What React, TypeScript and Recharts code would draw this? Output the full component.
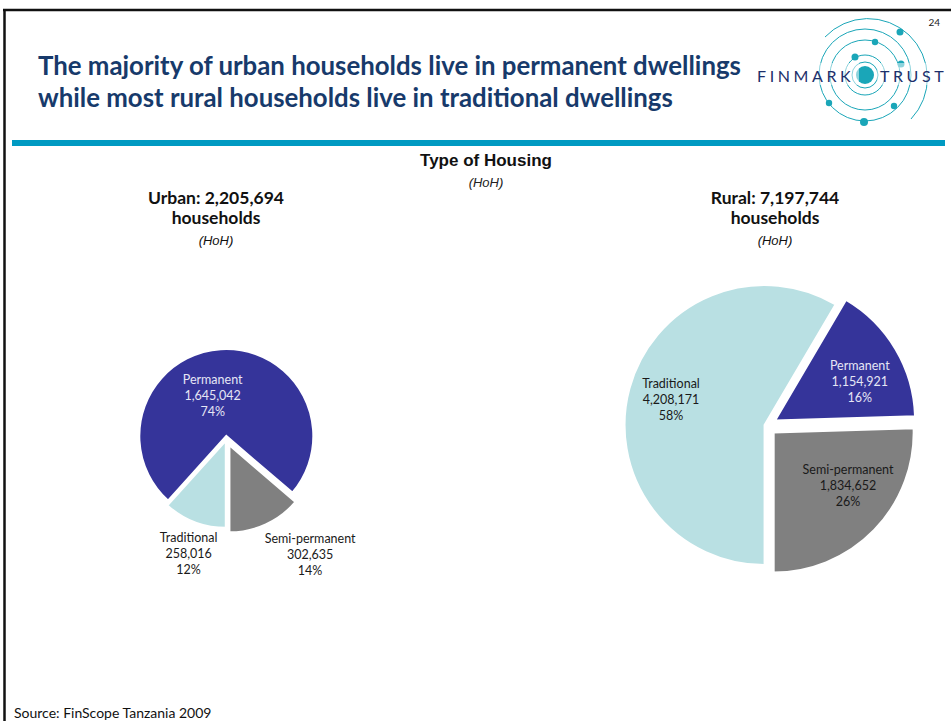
import { PieChart, Pie, Cell } from 'recharts'

// Slices run counter-clockwise from six o'clock in this order
const housingTypes = ['Semi-permanent', 'Permanent', 'Traditional']
const urbanHouseholds = [302635, 1645042, 258016]
const urbanPercent = [14, 74, 12]
const ruralHouseholds = [1834652, 1154921, 4208171]
const ruralPercent = [26, 16, 58]

const sliceColors = ['#808080', '#35349a', '#b9e0e3']
const labelColors = ['#1a1a1a', '#e6e6f5', '#1a1a1a']

const START_ANGLE = -90
const TEAL = '#1aa6b8'
const NAVY = '#173a6b'

interface LabelSpot {
  k: number
  dx: number
  dy: number
}

function midAngles(values: number[]) {
  const total = values.reduce((a, b) => a + b, 0)
  let acc = 0
  return values.map((v) => {
    const mid = START_ANGLE + ((acc + v / 2) / total) * 360
    acc += v
    return mid
  })
}

function sliceLabel(p: any, i: number, pct: number, spot: LabelSpot) {
  const rad = (-p.midAngle * Math.PI) / 180
  const x = p.cx + p.outerRadius * spot.k * Math.cos(rad) + spot.dx
  const y = p.cy + p.outerRadius * spot.k * Math.sin(rad) + spot.dy
  return (
    <text
      key={`lbl-${i}`}
      x={x}
      y={y}
      textAnchor="middle"
      dominantBaseline="central"
      fill={labelColors[i]}
      fontSize={12.5}
      fontFamily="Lato, sans-serif"
    >
      <tspan x={x} dy={-16}>{housingTypes[i]}</tspan>
      <tspan x={x} dy={16}>{p.value.toLocaleString('en-US')}</tspan>
      <tspan x={x} dy={16}>{pct}%</tspan>
    </text>
  )
}

// one Pie per slice so each wedge can be pulled out along its own mid angle
function explodedPie(
  id: string,
  values: number[],
  percents: number[],
  cx: number,
  cy: number,
  radius: number,
  explode: number[],
  spots: LabelSpot[],
) {
  const data = housingTypes.map((name, i) => ({ name, value: values[i] }))
  const mids = midAngles(values)
  return data.map((_, i) => {
    const rad = (mids[i] * Math.PI) / 180
    const ox = cx + explode[i] * Math.cos(rad)
    const oy = cy - explode[i] * Math.sin(rad)
    return (
      <Pie
        key={`${id}-${i}`}
        data={data}
        dataKey="value"
        nameKey="name"
        cx={ox}
        cy={oy}
        outerRadius={radius}
        startAngle={START_ANGLE}
        endAngle={START_ANGLE + 360}
        stroke="none"
        isAnimationActive={false}
        labelLine={false}
        label={(p: any) => {
          const idx = p.index ?? housingTypes.indexOf(p.name)
          return idx === i ? sliceLabel(p, i, percents[i], spots[i]) : null
        }}
      >
        {data.map((d, j) => (
          <Cell
            key={d.name}
            fill={j === i ? sliceColors[j] : 'transparent'}
            stroke={j === i ? '#ffffff' : 'none'}
            strokeWidth={j === i ? 2 : 0}
          />
        ))}
      </Pie>
    )
  })
}

const urbanSpots: LabelSpot[] = [
  { k: 1.45, dx: 28, dy: -6 },
  { k: 0.48, dx: -11, dy: 1 },
  { k: 1.35, dx: 5, dy: 3 },
]
const ruralSpots: LabelSpot[] = [
  { k: 0.65, dx: 9, dy: -11 },
  { k: 0.67, dx: 4, dy: 8 },
  { k: 0.7, dx: 1, dy: 0 },
]

function Logo() {
  const cx = 865
  const cy = 75
  const dots = [
    [900, 32, 3.5], [875, 42, 3.2], [855, 57, 3.5], [901, 64, 3.5],
    [829, 103, 3.2], [894, 106, 3.2], [864, 122, 4],
  ]
  return (
    <g>
      <circle cx={cx} cy={cy} r={13} fill="none" stroke={TEAL} strokeWidth={1} />
      <circle cx={cx} cy={cy} r={20} fill="none" stroke={TEAL} strokeWidth={1} />
      <circle cx={cx} cy={cy} r={35} fill="none" stroke={TEAL} strokeWidth={1} />
      <circle cx={cx} cy={cy} r={46} fill="none" stroke={TEAL} strokeWidth={1} />
      <path
        d={`M ${cx - 40} ${cy - 38} A 55 55 0 0 1 ${cx + 46} ${cy + 44}`}
        fill="none"
        stroke={TEAL}
        strokeWidth={1}
      />
      <circle cx={cx} cy={cy} r={9} fill={TEAL} />
      {dots.map(([x, y, r], i) => (
        <circle key={i} cx={x} cy={y} r={r} fill={TEAL} />
      ))}
      <rect x={753} y={63} width={106} height={22} fill="#fff" opacity={0.5} />
      <rect x={877} y={63} width={72} height={22} fill="#fff" opacity={0.5} />
      <text x={757} y={82} fontFamily="Lato, sans-serif" fontSize={16} letterSpacing={3.6} fill="#1d2f6b">
        FINMARK
      </text>
      <text x={880} y={82} fontFamily="Lato, sans-serif" fontSize={16} letterSpacing={3.6} fill="#1d2f6b">
        TRUST
      </text>
    </g>
  )
}

export default function App() {
  const W = 951
  const H = 721
  return (
    <div style={{ position: 'absolute', left: 0, top: 0, width: W, height: H, background: '#fff', overflow: 'hidden' }}>
      <svg width={W} height={H} style={{ position: 'absolute', left: 0, top: 0 }}>
        <line x1={3} y1={10} x2={W} y2={10} stroke="#111" strokeWidth={2.5} />
        <line x1={4.5} y1={9} x2={4.5} y2={H} stroke="#111" strokeWidth={2.5} />
        <rect x={12} y={140} width={933} height={6} fill="#009ac2" />

        <text fontFamily="Lato, sans-serif" fontWeight={700} fontSize={25.8} fill={NAVY}>
          <tspan x={38} y={75}>The majority of urban households live in permanent dwellings</tspan>
          <tspan x={38} y={107}>while most rural households live in traditional dwellings</tspan>
        </text>
        <text x={940} y={26} textAnchor="end" fontFamily="Lato, sans-serif" fontSize={10} fill="#222">24</text>
        <Logo />

        <text x={486} y={166} textAnchor="middle" fontFamily="'Liberation Sans', Arial, sans-serif" fontWeight={700} fontSize={17} fill="#111">
          Type of Housing
        </text>
        <text x={486} y={187} textAnchor="middle" fontFamily="'Liberation Sans', Arial, sans-serif" fontStyle="italic" fontSize={13} fill="#222">
          (HoH)
        </text>

        <g textAnchor="middle" fill="#111">
          <text x={216} y={204} fontFamily="Lato, sans-serif" fontWeight={700} fontSize={17.5}>Urban: 2,205,694</text>
          <text x={216} y={224} fontFamily="Lato, sans-serif" fontWeight={700} fontSize={17.5}>households</text>
          <text x={216} y={245} fontFamily="'Liberation Sans', Arial, sans-serif" fontStyle="italic" fontSize={13}>(HoH)</text>
          <text x={775} y={204} fontFamily="Lato, sans-serif" fontWeight={700} fontSize={17.5}>Rural: 7,197,744</text>
          <text x={775} y={224} fontFamily="Lato, sans-serif" fontWeight={700} fontSize={17.5}>households</text>
          <text x={775} y={245} fontFamily="'Liberation Sans', Arial, sans-serif" fontStyle="italic" fontSize={13}>(HoH)</text>
        </g>

        <text x={14} y={718} fontFamily="Lato, sans-serif" fontSize={14} fill="#111">
          Source: FinScope Tanzania 2009
        </text>
      </svg>

      <div style={{ position: 'absolute', left: 0, top: 0 }}>
        <PieChart width={W} height={H} margin={{ top: 0, right: 0, bottom: 0, left: 0 }}>
          {explodedPie('urban', urbanHouseholds, urbanPercent, 226.5, 439, 87, [7, 3, 2], urbanSpots)}
          {explodedPie('rural', ruralHouseholds, ruralPercent, 766.5, 425.6, 140, [10, 10, 2], ruralSpots)}
        </PieChart>
      </div>
    </div>
  )
}
